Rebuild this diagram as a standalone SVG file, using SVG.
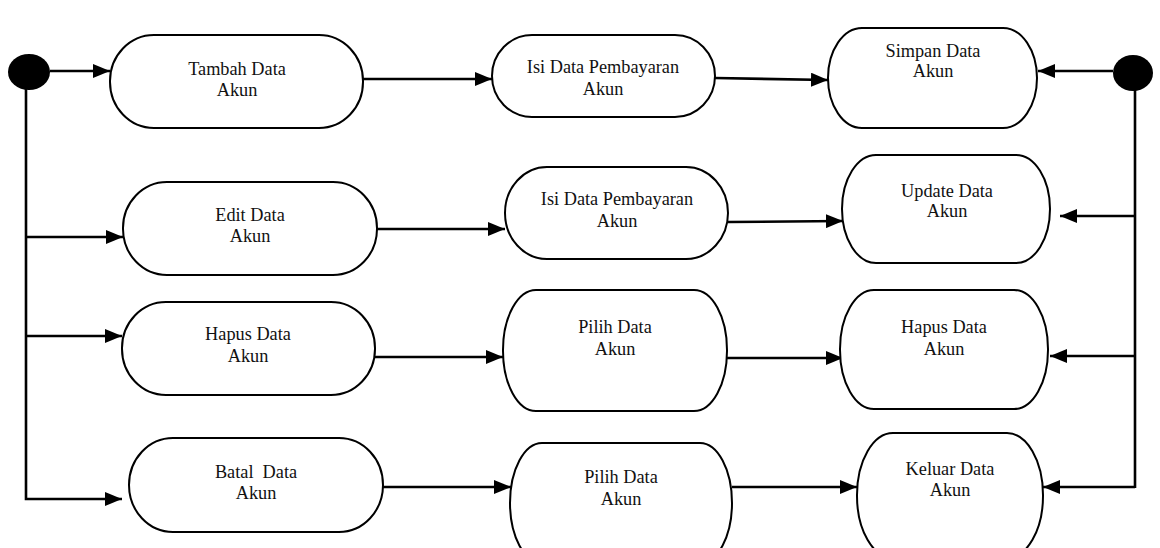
<svg xmlns="http://www.w3.org/2000/svg" width="1160" height="548" viewBox="0 0 1160 548">
<style>
.node{fill:#fff;stroke:#000;stroke-width:2}
.lbl{font-family:"Liberation Serif","Times New Roman",serif;font-size:18.3px;fill:#111;text-anchor:middle}
.con{stroke:#000;stroke-width:2.6;fill:none}
.dot{fill:#000}
</style>
<defs>
<marker id="arr" markerUnits="userSpaceOnUse" markerWidth="17" markerHeight="14" refX="17" refY="7" orient="auto">
<path d="M0,0 L17,7 L0,14 z" fill="#000"/>
</marker>
</defs>
<rect width="1160" height="548" fill="#fff"/>
<g id="connectors">
<line class="con" x1="50" y1="71" x2="110" y2="71" marker-end="url(#arr)"/>
<polyline class="con" points="26,88 26,499 122,499" marker-end="url(#arr)"/>
<line class="con" x1="26" y1="237" x2="123" y2="237" marker-end="url(#arr)"/>
<line class="con" x1="26" y1="336" x2="122" y2="336" marker-end="url(#arr)"/>
<line class="con" x1="1113" y1="71" x2="1038" y2="71" marker-end="url(#arr)"/>
<line class="con" x1="1135" y1="90" x2="1135" y2="488"/>
<line class="con" x1="1135" y1="216" x2="1060" y2="216" marker-end="url(#arr)"/>
<line class="con" x1="1135" y1="356" x2="1050" y2="356" marker-end="url(#arr)"/>
<line class="con" x1="1135" y1="487" x2="1043" y2="487" marker-end="url(#arr)"/>
<line class="con" x1="363" y1="79" x2="492" y2="79" marker-end="url(#arr)"/>
<line class="con" x1="715" y1="78" x2="828" y2="80" marker-end="url(#arr)"/>
<line class="con" x1="377" y1="229" x2="505" y2="229" marker-end="url(#arr)"/>
<line class="con" x1="728" y1="222" x2="843" y2="221" marker-end="url(#arr)"/>
<line class="con" x1="375" y1="357" x2="503" y2="357" marker-end="url(#arr)"/>
<line class="con" x1="727" y1="358" x2="843" y2="358" marker-end="url(#arr)"/>
<line class="con" x1="383" y1="487" x2="511" y2="487" marker-end="url(#arr)"/>
<line class="con" x1="732" y1="487" x2="857" y2="487" marker-end="url(#arr)"/>
</g>
<g id="start-left"><ellipse class="dot" cx="29" cy="72" rx="21" ry="18"/></g>
<g id="start-right"><ellipse class="dot" cx="1133" cy="73" rx="20" ry="18"/></g>
<g id="tambah">
<rect class="node" x="110" y="35" width="253" height="93" rx="44" ry="46"/>
<text class="lbl" x="237" y="75">Tambah Data</text><text class="lbl" x="237" y="96">Akun</text>
</g>
<g id="isi1">
<rect class="node" x="492" y="35" width="223" height="82" rx="40" ry="41"/>
<text class="lbl" x="603" y="73">Isi Data Pembayaran</text><text class="lbl" x="603" y="95">Akun</text>
</g>
<g id="simpan">
<rect class="node" x="828" y="28" width="209" height="100" rx="34" ry="50"/>
<text class="lbl" x="933" y="57">Simpan Data</text><text class="lbl" x="933" y="77">Akun</text>
</g>
<g id="edit">
<rect class="node" x="123" y="182" width="254" height="93" rx="44" ry="46"/>
<text class="lbl" x="250" y="221">Edit Data</text><text class="lbl" x="250" y="242">Akun</text>
</g>
<g id="isi2">
<rect class="node" x="505" y="167" width="223" height="92" rx="42" ry="46"/>
<text class="lbl" x="617" y="205">Isi Data Pembayaran</text><text class="lbl" x="617" y="227">Akun</text>
</g>
<g id="update">
<rect class="node" x="842" y="155" width="208" height="108" rx="34" ry="54"/>
<text class="lbl" x="947" y="197">Update Data</text><text class="lbl" x="947" y="217">Akun</text>
</g>
<g id="hapus1">
<rect class="node" x="122" y="302" width="253" height="93" rx="44" ry="46"/>
<text class="lbl" x="248" y="340">Hapus Data</text><text class="lbl" x="248" y="362">Akun</text>
</g>
<g id="pilih1">
<rect class="node" x="503" y="290" width="224" height="121" rx="33" ry="60"/>
<text class="lbl" x="615" y="333">Pilih Data</text><text class="lbl" x="615" y="355">Akun</text>
</g>
<g id="hapus2">
<rect class="node" x="840" y="290" width="208" height="119" rx="34" ry="59"/>
<text class="lbl" x="944" y="333">Hapus Data</text><text class="lbl" x="944" y="355">Akun</text>
</g>
<g id="batal">
<rect class="node" x="129" y="438" width="254" height="94" rx="44" ry="47"/>
<text class="lbl" x="256" y="478" xml:space="preserve">Batal  Data</text><text class="lbl" x="256" y="499">Akun</text>
</g>
<g id="pilih2">
<rect class="node" x="510" y="443" width="222" height="120" rx="32" ry="60"/>
<text class="lbl" x="621" y="483">Pilih Data</text><text class="lbl" x="621" y="505">Akun</text>
</g>
<g id="keluar">
<rect class="node" x="857" y="433" width="186" height="125" rx="36" ry="62"/>
<text class="lbl" x="950" y="475">Keluar Data</text><text class="lbl" x="950" y="496">Akun</text>
</g>
</svg>
